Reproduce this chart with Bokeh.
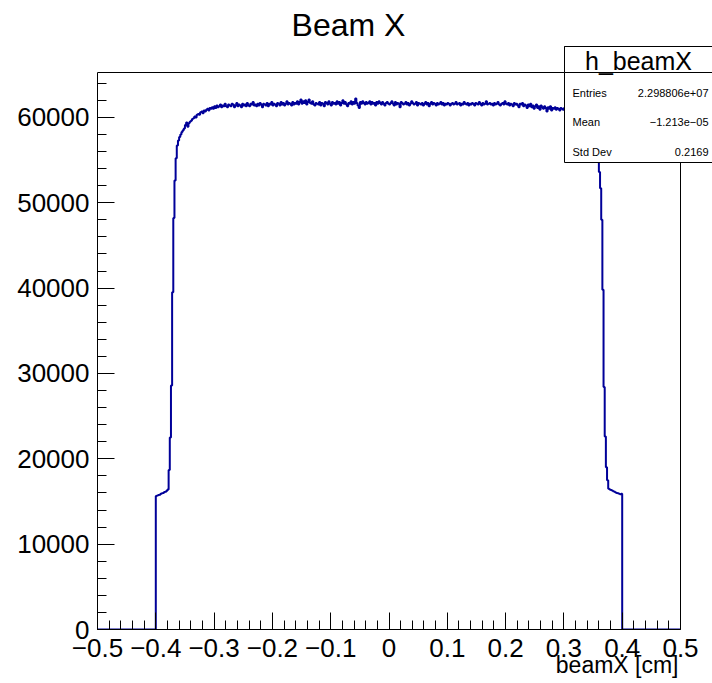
import numpy as np
from bokeh.plotting import figure
from bokeh.models import Range1d, FixedTicker, Label, BoxAnnotation, Title
from bokeh.embed import file_html
from bokeh.resources import INLINE

# ---------------- data ----------------
title_text = "Beam X"
hist_name = "h_beamX"
x_label = "beamX [cm]"
n_bins = 500
x_min, x_max = -0.5, 0.5

zeros_left = [0] * 50
left_edge = [
    15650, 15700, 15750, 15800, 15900, 15950, 16000, 16100, 16150, 16250, 16400,
    18700, 22500, 28600, 39500, 48200, 52600, 55200,
    56700, 57300, 57700, 58000, 58300, 58500, 58700, 59100, 59400, 58900,
    59300, 59500, 59600, 59800, 59900, 60100, 60000, 60300, 60400, 60300,
    60600, 60700, 60500, 60800, 60700, 60900, 61000, 60800, 61100, 61000,
]
plateau = [
    61200, 61000, 61300, 61100, 61400, 61200, 61300, 61500, 61200, 61400, 61300, 61600, 61300, 61200, 61500,
    61400, 61300, 61600, 61500, 61200, 61400, 61700, 61300, 61500, 61400, 61200, 61600, 61400, 61500, 61300,
    61700, 61400, 61300, 61600, 61500, 61800, 61400, 61500, 61300, 61600, 61400, 61700, 61500, 61200, 61600,
    61500, 61400, 61700, 61300, 61600, 61500, 61800, 61400, 61600, 61500, 61300, 61700, 61600, 61400, 61800,
    61500, 61700, 61400, 61600, 61900, 61500, 61700, 61600, 61400, 61800, 61500, 61700, 61600, 61900, 61500,
    61800, 62100, 61600, 61900, 61700, 62000, 61500, 61800, 62100, 61700, 61600, 61900, 61500, 61400, 61700,
    61600, 61500, 61800, 61400, 61700, 61600, 61300, 61800, 61700, 61500, 61900, 61600, 61400, 61800, 61600,
    61700, 61500, 61900, 61600, 61800, 61400, 61700, 62000, 61600, 61800, 61500, 61300, 61700, 61600, 61900,
    61500, 61800, 61600, 62200, 61700, 61400, 61100, 61800, 61600, 61900, 61700, 61500, 61800, 61600, 61700,
    61900, 61500, 61800, 61600, 61700, 61400, 61800, 61600, 61900, 61700, 61500, 61800, 61600, 61400, 61700,
    61800, 61600, 61500, 61700, 61900, 61600, 61400, 61800, 61500, 61700, 61600, 61200, 61800, 61700, 61500,
    61600, 61800, 61500, 61700, 61400, 61600, 61900, 61700, 61500, 61600, 61800, 61400, 61700, 61600, 61500,
    61700, 61400, 61600, 61800, 61500, 61700, 61300, 61600, 61800, 61500, 61700, 61600, 61400, 61700, 61500,
    61600, 61800, 61500, 61700, 61400, 61600, 61500, 61700, 61600, 61400, 61600, 61700, 61500, 61600, 61800,
    61500, 61600, 61700, 61400, 61600, 61500, 61800, 61600, 61500, 61700, 61400, 61600, 61500, 61700, 61600,
    61400, 61700, 61600, 61500, 61800, 61600, 61400, 61700, 61500, 61600, 61900, 61500, 61600, 61700, 61500,
    61600, 61400, 61700, 61500, 61600, 61800, 61500, 61400, 61600, 61700, 61500, 61900, 61600, 61500, 61700,
    61400, 61600, 61500, 61300, 61700, 61500, 61600, 61400, 61200, 61600, 61500, 61700, 61300, 61500, 61400,
    61100, 61500, 61300, 61600, 61200, 61400, 61000, 61300, 61500, 61100, 61300, 60900, 61400, 61200, 61000,
    61300, 61100, 60700, 61200, 61000, 61300, 60800, 61100, 61000, 61200, 60900, 61100, 61000, 60800, 61100,
    61000, 60900, 61100, 60800, 61000, 60900, 60800, 61000, 60900, 60700, 60800, 60700, 60600, 60500, 60400,
    60300, 60200, 60100, 60000, 59900, 59800, 59600, 59400, 59200, 59000, 58700, 58400, 58000, 57500, 56800,
]
right_edge = [
    56200, 55000, 53600, 51700, 48000, 39800, 28400, 22600, 19000, 17500,
    16500, 16400, 16350, 16300, 16200, 16150, 16050, 16000, 15950, 15900, 15850, 15900,
]
zeros_right = [0] * 50

x_ticks = [-0.5, -0.4, -0.3, -0.2, -0.1, 0.0, 0.1, 0.2, 0.3, 0.4, 0.5]
x_tick_labels = ["\u22120.5", "\u22120.4", "\u22120.3", "\u22120.2", "\u22120.1", "0",
                 "0.1", "0.2", "0.3", "0.4", "0.5"]
y_ticks = [0, 10000, 20000, 30000, 40000, 50000, 60000]
y_tick_labels = ["0", "10000", "20000", "30000", "40000", "50000", "60000"]
y_top = 65260

stats_names = ["Entries", "Mean", "Std Dev"]
stats_values = ["2.298806e+07", "\u22121.213e\u221205", "0.2169"]

# ---------------- build ----------------
counts = zeros_left + left_edge + plateau + right_edge + zeros_right
edges = np.linspace(x_min, x_max, n_bins + 1)
ys = counts + [counts[-1]]

FONT = "Liberation Sans"
BLUE = "#000099"

W, H = 712, 683
# histogram pad region on the canvas (pixels): x 97..680, y 629..72
FX0, FX1, FY0, FY1 = 97, 680, 629, 72
def dx(px):
    return x_min + (px - FX0) / (FX1 - FX0) * (x_max - x_min)
def dy(py):
    return (FY0 - py) / (FY0 - FY1) * y_top

# the plotting frame extends to the top/right canvas edges so that the
# title and the statistics box can be drawn inside it
p = figure(width=W, height=H, output_backend="svg", toolbar_location=None,
           x_range=Range1d(x_min, dx(W)), y_range=Range1d(0, dy(0)),
           min_border_left=FX0, min_border_right=0,
           min_border_top=0, min_border_bottom=H - FY0)
p.background_fill_color = "white"
p.border_fill_color = "white"
p.outline_line_color = None
p.xgrid.visible = False
p.ygrid.visible = False

p.step(x=edges, y=ys, mode="after", line_color=BLUE, line_width=2)

# frame box of the histogram area
p.add_layout(BoxAnnotation(left=x_min, right=x_max, bottom=0, top=y_top,
                           fill_alpha=0, line_color="black", line_width=1, line_alpha=1.0))

# axes
xa = p.xaxis[0]
xa.ticker = FixedTicker(ticks=x_ticks, minor_ticks=list(np.round(np.arange(-0.5, 0.5001, 0.02), 4)))
xa.major_label_overrides = {t: l for t, l in zip(x_ticks, x_tick_labels)}
xa.bounds = (x_min, x_max)
ya = p.yaxis[0]
ya.ticker = FixedTicker(ticks=y_ticks, minor_ticks=list(range(0, 66000, 2000)))
ya.major_label_overrides = {t: l for t, l in zip(y_ticks, y_tick_labels)}
ya.bounds = (0, y_top)
for ax in (xa, ya):
    ax.major_tick_in = 17
    ax.major_tick_out = 0
    ax.minor_tick_in = 9
    ax.minor_tick_out = 0
    ax.axis_line_color = "black"
    ax.major_tick_line_color = "black"
    ax.minor_tick_line_color = "black"
    ax.major_label_text_font = FONT
    ax.major_label_text_font_size = "26px"
    ax.major_label_text_color = "black"
xa.major_label_standoff = 9
ya.major_label_standoff = 8

# x axis title, right aligned under the axis
p.add_layout(Title(text=x_label, align="right", offset=W - 678, vertical_align="top",
                   standoff=-16, text_font=FONT, text_font_size="23px",
                   text_font_style="normal", text_color="black"), "below")

# chart title
p.add_layout(Label(x=dx(348), y=dy(24), text=title_text, text_font=FONT,
                   text_font_size="32px", text_align="center", text_baseline="middle",
                   text_color="black"))

# stats box
p.add_layout(BoxAnnotation(left=dx(564), right=dx(716), top=dy(46), bottom=dy(162),
                           fill_color="white", fill_alpha=1.0,
                           line_color="black", line_width=1, line_alpha=1.0))
p.add_layout(BoxAnnotation(left=dx(564), right=dx(716), top=dy(46), bottom=dy(72),
                           fill_color="white", fill_alpha=1.0,
                           line_color="black", line_width=1, line_alpha=1.0))
p.add_layout(Label(x=dx(638), y=dy(60), text=hist_name, text_font=FONT,
                   text_font_size="25px", text_align="center", text_baseline="middle",
                   text_color="black"))
for i, (nm, vl) in enumerate(zip(stats_names, stats_values)):
    yy = dy(92 + 29.5 * i)
    p.add_layout(Label(x=dx(572), y=yy, text=nm, text_font=FONT, text_font_size="11px",
                       text_align="left", text_baseline="middle", text_color="black"))
    p.add_layout(Label(x=dx(708), y=yy, text=vl, text_font=FONT, text_font_size="11px",
                       text_align="right", text_baseline="middle", text_color="black"))

open("out.html", "w").write(file_html(p, INLINE))
